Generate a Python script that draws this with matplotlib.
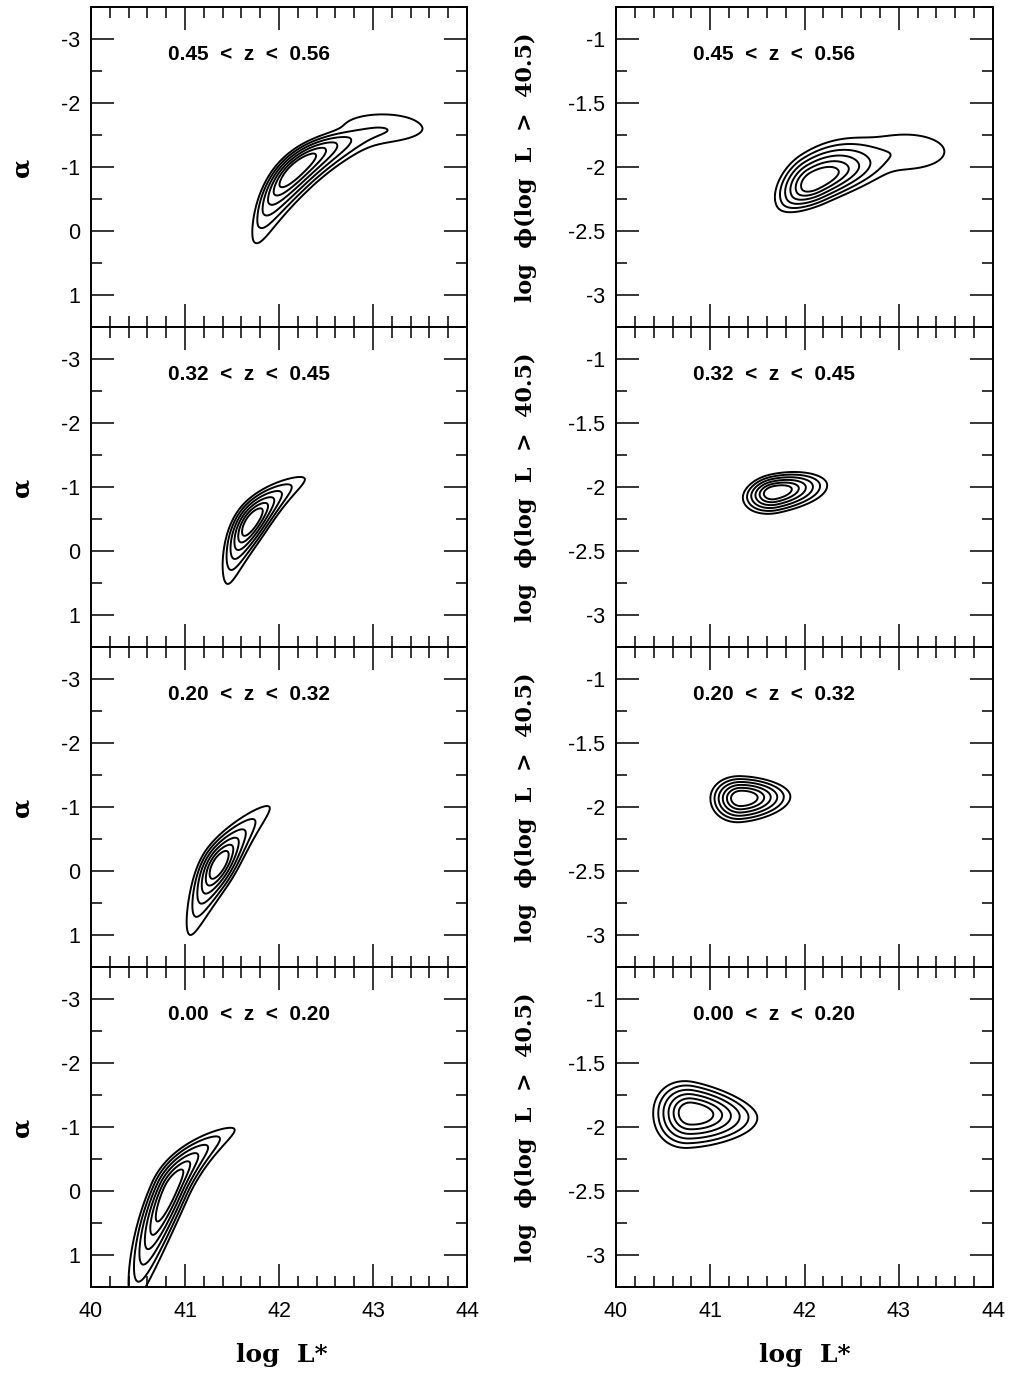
import numpy as np
import matplotlib
matplotlib.use("Agg")
import matplotlib.pyplot as plt
from matplotlib.ticker import MultipleLocator, FuncFormatter

plt.rcParams['axes.unicode_minus'] = False

# ---------------- data ----------------
z_bins = ["0.45  <  z  <  0.56", "0.32  <  z  <  0.45",
          "0.20  <  z  <  0.32", "0.00  <  z  <  0.20"]

# contour levels expressed as Gaussian "sigma radii" (6 nested contours)
level_radii = [1.0, 1.4, 1.8, 2.2, 2.6, 3.0]

# ---- left column: alpha vs log L* (peak position + shape, shape in screen px)
a_peak_L  = [42.17, 41.71, 41.36, 40.84]
a_peak_y  = [-0.96, -0.46, -0.10, -0.01]
a_angle   = [43, 56, 60, 66]
a_su_neg  = [22, 15.7, 15, 33]
a_su_pos  = [25, 15.7, 15, 23.5]
a_sv_neg  = [8.0, 5.8, 6.2, 6.5]
a_sv_pos  = [5.5, 5.8, 6.2, 6.5]
a_curv_neg = [0.004, 0.0032, 0.0017, 0.0008]
a_curv_pos = [0.004, 0.0044, 0.0025, 0.0048]
a_nu      = [13, 7.5, 5, 15]
a_taper   = [0.0, 0.0, 0.0, 0.0]
a_tail    = [(43.1, -1.62, 0.028, 28, 9.5), None, None, None]

# ---- right column: log phi vs log L*
p_peak_L  = [42.11, 41.68, 41.33, 40.80]
p_peak_y  = [-2.114, -2.04, -1.93, -1.89]
p_angle   = [28, 12, 2, -5]
p_su_neg  = [15, 10.7, 10.3, 12.7]
p_su_pos  = [26, 17.7, 16.3, 22]
p_sv_neg  = [8.0, 7.0, 8.0, 11.7]
p_sv_pos  = [10.0, 6.0, 7.3, 10.3]
p_curv_neg = [0.002, 0.001, 0.0, 0.0]
p_curv_pos = [0.002, 0.001, 0.0, 0.0]
p_nu      = [1000, 1000, 1000, 1000]
p_taper   = [-0.3, 0.0, 0.3, 0.4]
p_tail    = [(43.08, -1.88, 0.03, 27, 12), None, None, None]

x_lim = (40, 44)
alpha_lim = (1.5, -3.5)
phi_lim = (-3.25, -0.75)

# ---------------- layout ----------------
W, H = 1009, 1374
fig = plt.figure(figsize=(W / 100, H / 100), dpi=100)
col_left = [91, 616]
col_width = [376, 377]
top0, ph = 7, 320

serif_bold = dict(family='DejaVu Serif', weight='bold')


def field(Lg, Yg, L0, y0, px_x, px_y, ang, su_n, su_p, sv_n, sv_p, k_n, k_p, nu, taper, tail):
    X = (Lg - L0) * px_x
    Y = (Yg - y0) * px_y
    th = np.radians(ang)
    u = X * np.cos(th) + Y * np.sin(th)
    v = -X * np.sin(th) + Y * np.cos(th)
    k = np.where(u < 0, k_n, k_p)
    vv = v + k * u ** 2
    su = np.where(u < 0, su_n, su_p)
    sv = np.where(vv < 0, sv_n, sv_p) * np.exp(-taper * u / 100.0)
    r2 = nu * np.log1p(u ** 2 / (nu * su ** 2)) + (vv / sv) ** 2
    f = np.exp(-0.5 * r2)
    if tail is not None:
        tL, ty, amp, sx, sy = tail
        Xt = (tL - L0) * px_x
        Yt = (ty - y0) * px_y
        f = f + amp * np.exp(-0.5 * (((X - Xt) / sx) ** 2 + ((Y - Yt) / sy) ** 2))
    return f


levels = sorted(np.exp(-0.5 * np.array(level_radii) ** 2))
fmt = FuncFormatter(lambda v, pos: "%g" % v)
sans = ['Liberation Sans', 'DejaVu Sans']

for i in range(4):
    for j in range(2):
        left = col_left[j] / W
        width = col_width[j] / W
        bottom = 1 - (top0 + ph * (i + 1)) / H
        ax = fig.add_axes([left, bottom, width, ph / H])
        ax.set_xlim(*x_lim)
        if j == 0:
            ax.set_ylim(*alpha_lim)
            ylo, yhi = -3.5, 1.5
            px_x = col_width[j] / 4.0
            px_y = -ph / 5.0
            pars = (a_peak_L[i], a_peak_y[i], px_x, px_y, a_angle[i], a_su_neg[i], a_su_pos[i],
                    a_sv_neg[i], a_sv_pos[i], a_curv_neg[i], a_curv_pos[i], a_nu[i],
                    a_taper[i], a_tail[i])
            ax.yaxis.set_major_locator(MultipleLocator(1))
            ax.yaxis.set_minor_locator(MultipleLocator(0.5))
        else:
            ax.set_ylim(*phi_lim)
            ylo, yhi = -3.25, -0.75
            px_x = col_width[j] / 4.0
            px_y = ph / 2.5
            pars = (p_peak_L[i], p_peak_y[i], px_x, px_y, p_angle[i], p_su_neg[i], p_su_pos[i],
                    p_sv_neg[i], p_sv_pos[i], p_curv_neg[i], p_curv_pos[i], p_nu[i],
                    p_taper[i], p_tail[i])
            ax.yaxis.set_major_locator(MultipleLocator(0.5))
            ax.yaxis.set_minor_locator(MultipleLocator(0.25))
        gx = np.linspace(39.5, 44.5, 900)
        gy = np.linspace(ylo - 0.5, yhi + 0.5, 900)
        Lg, Yg = np.meshgrid(gx, gy)
        F = field(Lg, Yg, *pars)
        ax.contour(Lg, Yg, F, levels=levels, colors='black', linewidths=1.4)

        ax.xaxis.set_major_locator(MultipleLocator(1))
        ax.xaxis.set_minor_locator(MultipleLocator(0.2))
        ax.yaxis.set_major_formatter(fmt)
        ax.xaxis.set_major_formatter(fmt)
        ax.tick_params(which='both', direction='in', top=True, right=True,
                       width=1.1, labelsize=15.5, colors='black')
        ax.tick_params(which='major', length=16.5)
        ax.tick_params(which='minor', length=8)
        ax.tick_params(axis='y', pad=8)
        ax.tick_params(axis='x', pad=10)
        for sp in ax.spines.values():
            sp.set_linewidth(1.4)
        if i < 3:
            ax.tick_params(axis='x', labelbottom=False)
        for lab in ax.get_xticklabels() + ax.get_yticklabels():
            lab.set_family(sans)

        ax.text(0.42, 0.85, z_bins[i], transform=ax.transAxes, ha='center', va='center',
                fontsize=15, fontweight='bold', family=sans)

        yc = 1 - (top0 + ph * i + ph / 2) / H
        if j == 0:
            fig.text(21 / W, yc, "α", rotation=90, ha='center', va='center', fontsize=18, **serif_bold)
        else:
            fig.text(526 / W, yc, "log  ϕ(log  L  >  40.5)", rotation=90, ha='center', va='center',
                     fontsize=16, **serif_bold)

fig.text(282 / W, 1 - 1355 / H, "log  L*", ha='center', va='center', fontsize=18, **serif_bold)
fig.text(805 / W, 1 - 1355 / H, "log  L*", ha='center', va='center', fontsize=18, **serif_bold)

fig.savefig("out.png", dpi=100)
